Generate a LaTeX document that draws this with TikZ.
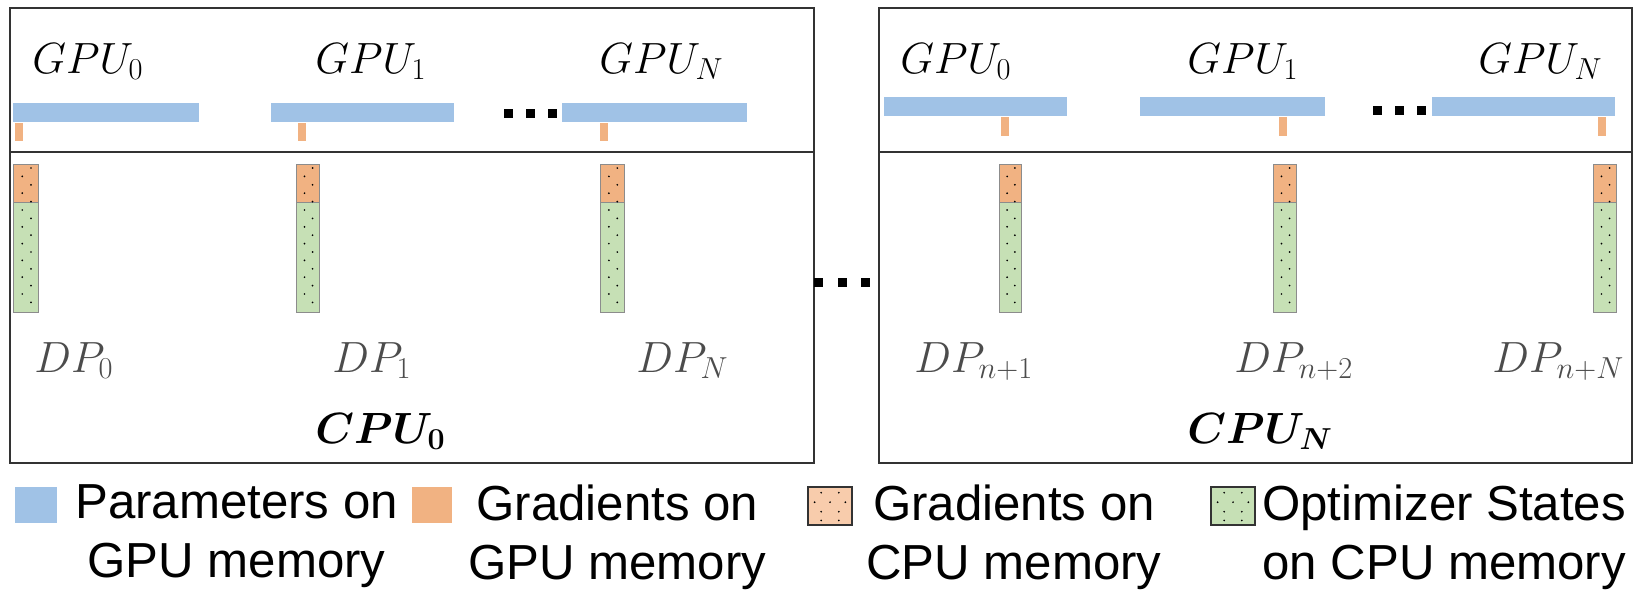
\documentclass[tikz,border=0pt]{standalone}
\usepackage{bm}
\usepackage{fontspec}
\setmainfont{Liberation Sans}
\usetikzlibrary{positioning}
\definecolor{parblue}{RGB}{160,194,230}
\definecolor{gradorange}{RGB}{241,178,130}
\definecolor{gradlight}{RGB}{248,204,172}
\definecolor{optgreen}{RGB}{198,224,181}
\tikzset{
  frame/.style    ={draw=black!80, line width=1.2pt},
  parbar/.style   ={fill=parblue},
  gradtick/.style ={fill=gradorange},
  colframe/.style ={draw=black!45, line width=0.4pt},
  sqdot/.style    ={fill=black, inner sep=0pt, minimum size=0.18cm},
  gpulbl/.style   ={anchor=base west, inner sep=0pt, font=\fontsize{26}{30}\selectfont},
  dplbl/.style    ={anchor=base west, inner sep=0pt, text=black!70, font=\fontsize{24}{28}\selectfont},
  cpulbl/.style   ={anchor=base west, inner sep=0pt, font=\fontsize{24}{28}\selectfont},
  legtxt/.style   ={anchor=north west, inner sep=0pt, align=center, font=\fontsize{28}{34}\selectfont},
}
% one dotted memory column on the CPU side
\newcommand{\memcol}[2]{%
  \fill[gradorange] (#1,164) rectangle (#2,202);
  \fill[optgreen] (#1,202) rectangle (#2,312);
  \draw[colframe] (#1,164) rectangle (#2,312) (#1,202) -- (#2,202);
  \foreach \k in {0,...,16} {
    \pgfmathsetmacro\dx{ifthenelse(isodd(\k),0.37,0.72)}
    \fill ({#1+\dx*(#2-#1)},{168+8.4*\k}) circle[radius=0.55pt];
  }
}
\begin{document}
\begin{tikzpicture}[x=0.02cm, y=-0.02cm]
  \useasboundingbox (0,0) rectangle (1647,589);

  % machine 0
  \draw[frame] (10,8) rectangle (814,152);
  \draw[frame] (10,152) rectangle (814,463);
  \foreach \bl/\br/\tk/\cl/\cr in {13/199/15/13/38, 271/454/298/296/319, 562/747/600/600/624} {
    \fill[parbar] (\bl,103) rectangle (\br,122);
    \fill[gradtick] (\tk,123) rectangle ({\tk+8},141);
    \memcol{\cl}{\cr}
  }
  \node[gpulbl] (gpuA0) at (32,73) {$GPU_0$};
  \node[gpulbl] (gpuA1) at (315,73) {$GPU_1$};
  \node[gpulbl] (gpuAN) at (599,73) {$GPU_N$};
  \node[sqdot] (dotsA1) at (508,113) {};
  \node[sqdot] (dotsA2) at (530,113) {};
  \node[sqdot] (dotsA3) at (552,113) {};
  \node[dplbl] (dp0) at (34,372) {$DP_0$};
  \node[dplbl] (dp1) at (332,372) {$DP_1$};
  \node[dplbl] (dpN) at (636,372) {$DP_N$};
  \node[cpulbl] (cpu0) at (315,443) {$\bm{CPU_0}$};

  % gap between machines
  \node[sqdot] (dotsM1) at (818,282) {};
  \node[sqdot] (dotsM2) at (842,282) {};
  \node[sqdot] (dotsM3) at (865,282) {};

  % machine N
  \draw[frame] (879,8) rectangle (1632,152);
  \draw[frame] (879,152) rectangle (1632,463);
  \foreach \bl/\br/\tk/\cl/\cr in {884/1067/1001/999/1021, 1140/1325/1279/1273/1296, 1432/1615/1598/1593/1616} {
    \fill[parbar] (\bl,97) rectangle (\br,116);
    \fill[gradtick] (\tk,117) rectangle ({\tk+8},136);
    \memcol{\cl}{\cr}
  }
  \node[gpulbl] (gpuB0) at (900,73) {$GPU_0$};
  \node[gpulbl] (gpuB1) at (1187,73) {$GPU_1$};
  \node[gpulbl] (gpuBN) at (1478,73) {$GPU_N$};
  \node[sqdot] (dotsB1) at (1377,110) {};
  \node[sqdot] (dotsB2) at (1399,110) {};
  \node[sqdot] (dotsB3) at (1421,110) {};
  \node[dplbl] (dpn1) at (914,372) {$DP_{n+1}$};
  \node[dplbl] (dpn2) at (1234,372) {$DP_{n+2}$};
  \node[dplbl] (dpnN) at (1492,372) {$DP_{n+N}$};
  \node[cpulbl] (cpuN) at (1187,443) {$\bm{CPU_N}$};

  % legend
  \fill[parblue] (15,487) rectangle (57,523);
  \node[legtxt] (legpar) at (75,484) {Parameters on\\GPU memory};
  \fill[gradorange] (412,487) rectangle (452,523);
  \node[legtxt] (leggg) at (468,484) {Gradients on\\GPU memory};
  \fill[gradlight] (808,487) rectangle (852,525);
  \foreach \u/\v in {0.3/0.15, 0.7/0.15, 0.15/0.4, 0.5/0.4, 0.85/0.4, 0.3/0.65, 0.7/0.65, 0.3/0.88, 0.7/0.88}
    \fill ({808+44*\u},{487+38*\v}) circle[radius=0.55pt];
  \draw[black!80, line width=0.9pt] (808,487) rectangle (852,525);
  \node[legtxt] (leggc) at (866,484) {Gradients on\\CPU memory};
  \fill[optgreen] (1211,487) rectangle (1255,525);
  \foreach \u/\v in {0.3/0.15, 0.7/0.15, 0.15/0.4, 0.5/0.4, 0.85/0.4, 0.3/0.65, 0.7/0.65, 0.3/0.88, 0.7/0.88}
    \fill ({1211+44*\u},{487+38*\v}) circle[radius=0.55pt];
  \draw[black!80, line width=0.9pt] (1211,487) rectangle (1255,525);
  \node[legtxt] (legopt) at (1262,484) {Optimizer States\\on CPU memory};
\end{tikzpicture}
\end{document}
